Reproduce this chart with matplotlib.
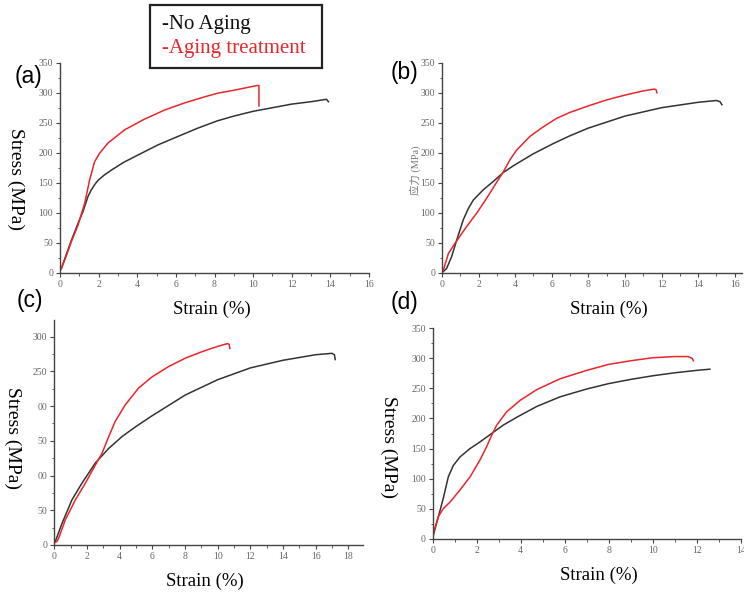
import matplotlib.pyplot as plt
from matplotlib.patches import Rectangle
from matplotlib.ticker import AutoMinorLocator

# Panel (a)
a_no_x = [0, 0.07, 0.3, 0.59, 0.93, 1.19, 1.45, 1.62, 1.8, 1.97, 2.3, 2.66, 3.3, 4.03, 5.07, 6.1,
          7.14, 8.14, 9.0, 10.0, 11.0, 12.0, 13.0, 13.8, 13.9]
a_no_y = [4, 7, 28, 54, 82, 102, 127, 138, 147, 154, 163, 171, 184, 196, 213, 227,
          241, 253, 261, 269, 275, 281, 285, 289, 285]
a_ag_x = [0, 0.07, 0.3, 0.59, 0.93, 1.28, 1.53, 1.79, 2.05, 2.48, 3.34, 4.38, 5.41, 6.45,
          7.48, 8.14, 9.0, 9.6, 10.2, 10.3, 10.3]
a_ag_y = [4, 7, 26, 52, 79, 116, 154, 185, 199, 216, 238, 256, 271, 283,
          293, 299, 304, 308, 312, 312, 278]

# Panel (b)
b_no_x = [0.07, 0.25, 0.53, 0.8, 1.16, 1.44, 1.71, 2.25, 2.8, 3.35, 3.89, 4.98, 6.07, 6.98,
          8.0, 10.0, 12.0, 14.0, 15.0, 15.2, 15.3]
b_no_y = [2, 7, 27, 54, 88, 107, 121, 138, 152, 167, 178, 198, 215, 228,
          241, 261, 275, 284, 287, 285, 280]
b_ag_x = [0, 0.07, 0.35, 0.71, 1.35, 1.89, 2.44, 2.89, 3.35, 3.71, 4.07, 4.8, 5.53, 6.25,
          6.98, 8.0, 9.0, 10.0, 11.0, 11.6, 11.7, 11.75]
b_ag_y = [3, 4, 32, 49, 77, 99, 124, 146, 168, 188, 204, 227, 243, 257,
          267, 278, 288, 296, 303, 306, 305, 300]

# Panel (c)
c_no_x = [0, 0.06, 0.47, 1.08, 1.69, 2.51, 3.33, 4.14, 4.96, 5.98, 7.0, 8.02, 10.0, 12.0,
          14.0, 16.0, 17.0, 17.15, 17.2]
c_no_y = [3, 5, 31, 65, 89, 118, 139, 156, 170, 186, 201, 216, 238, 255,
          266, 274, 276, 274, 267]
c_ag_x = [0, 0.16, 0.27, 0.67, 1.29, 1.9, 2.51, 2.92, 3.33, 3.73, 4.35, 5.16, 5.98, 7.0,
          8.02, 9.0, 10.0, 10.6, 10.7, 10.75]
c_ag_y = [3, 5, 10, 36, 65, 89, 115, 132, 156, 178, 202, 226, 242, 257,
          269, 278, 286, 290, 289, 283]
c_ytick_labels = ["0", "50", "00", "50", "00", "250", "300"]

# Panel (d)
d_no_x = [0, 0.03, 0.26, 0.48, 0.71, 0.94, 1.24, 1.7, 2.15, 2.68, 3.21, 3.82, 4.73, 5.79,
          7.0, 8.0, 9.0, 10.0, 11.0, 12.0, 12.6]
d_no_y = [0, 6, 37, 67, 103, 122, 136, 150, 161, 175, 189, 202, 220, 236,
          249, 258, 265, 271, 276, 280, 282]
d_ag_x = [0, 0.03, 0.26, 0.48, 0.79, 1.24, 1.7, 2.15, 2.45, 2.68, 2.91, 3.36, 3.97, 4.73,
          5.79, 7.0, 8.0, 9.0, 10.0, 11.0, 11.6, 11.8, 11.85]
d_ag_y = [3, 9, 37, 50, 61, 81, 103, 131, 153, 172, 189, 211, 230, 248,
          266, 280, 290, 296, 301, 303, 303, 300, 296]

BLACK = "#333333"
RED = "#e8262b"
W, H = 744, 594

fig = plt.figure(figsize=(W / 100, H / 100), dpi=100)


def px_axes(left, top, right, bottom):
    # pixel box -> figure fraction
    return fig.add_axes([left / W, 1 - bottom / H, (right - left) / W, (bottom - top) / H])


def style(ax, xmax, ymax, xticks, yticks):
    ax.set_xlim(0, xmax)
    ax.set_ylim(0, ymax)
    ax.set_xticks(xticks)
    ax.set_yticks(yticks)
    ax.xaxis.set_minor_locator(AutoMinorLocator(2))
    ax.yaxis.set_minor_locator(AutoMinorLocator(2))
    for s in ["top", "right"]:
        ax.spines[s].set_visible(False)
    for s in ["left", "bottom"]:
        ax.spines[s].set_color("#444444")
        ax.spines[s].set_linewidth(1.0)
    ax.tick_params(which="major", direction="out", length=3, width=0.8, color="#444444",
                   labelsize=7, labelcolor="#666666", pad=2)
    ax.tick_params(which="minor", direction="out", length=1.8, width=0.6, color="#444444")
    for lab in ax.get_xticklabels() + ax.get_yticklabels():
        lab.set_fontfamily("Liberation Serif")
    ax.patch.set_alpha(0)


serif = "Liberation Serif"

# (a)
ax_a = px_axes(60, 62.7, 369, 272.7)
ax_a.plot(a_no_x, a_no_y, color=BLACK, lw=1.1)
ax_a.plot(a_ag_x, a_ag_y, color=RED, lw=1.1)
style(ax_a, 16, 350, range(0, 17, 2), range(0, 351, 50))

# (b)
ax_b = px_axes(442, 62.7, 742, 272.7)
ax_b.plot(b_no_x, b_no_y, color=BLACK, lw=1.1)
ax_b.plot(b_ag_x, b_ag_y, color=RED, lw=1.1)
style(ax_b, 16.4, 350, range(0, 17, 2), range(0, 351, 50))

# (c)
ax_c = px_axes(54.3, 320, 363, 545)
ax_c.plot(c_no_x, c_no_y, color=BLACK, lw=1.1)
ax_c.plot(c_ag_x, c_ag_y, color=RED, lw=1.1)
style(ax_c, 18.9, 324, range(0, 19, 2), range(0, 301, 50))
ax_c.set_yticklabels(c_ytick_labels, fontfamily=serif)

# (d)
ax_d = px_axes(432.7, 328.3, 740.7, 538.7)
ax_d.plot(d_no_x, d_no_y, color=BLACK, lw=1.1)
ax_d.plot(d_ag_x, d_ag_y, color=RED, lw=1.1)
style(ax_d, 14, 350, range(0, 15, 2), range(0, 351, 50))


def ftext(x, y, s, **kw):
    fig.text(x / W, 1 - y / H, s, **kw)


# axis titles
for x, y in [(212, 309), (609, 309), (205, 581), (599, 575)]:
    ftext(x, y, "Strain (%)", fontsize=13.5, family=serif, ha="center", va="center")
for x, y in [(16, 179), (13, 438), (389, 447)]:
    ftext(x, y, "Stress (MPa)", fontsize=14, family=serif, ha="center", va="center", rotation=270)
ftext(415, 170, "应力 (MPa)", fontsize=7.5, family=[serif, "Noto Sans CJK SC"],
      color="#777777", ha="center", va="center", rotation=90)

# panel letters
for x, y, s in [(29, 77, "(a)"), (405, 72, "(b)"), (30, 301, "(c)"), (405, 302, "(d)")]:
    ftext(x, y, s, fontsize=16.5, family="Liberation Sans", ha="center", va="center")

# legend box
fig.patches.append(Rectangle((150 / W, 1 - 68 / H), 172 / W, 63 / H, transform=fig.transFigure,
                             fill=False, edgecolor="#222222", linewidth=1.6))
ftext(162, 25, "-No Aging", fontsize=15, family=serif, color="#111111", va="center")
ftext(162, 49, "-Aging treatment", fontsize=15, family=serif, color=RED, va="center")

fig.savefig("out.png", dpi=100)
